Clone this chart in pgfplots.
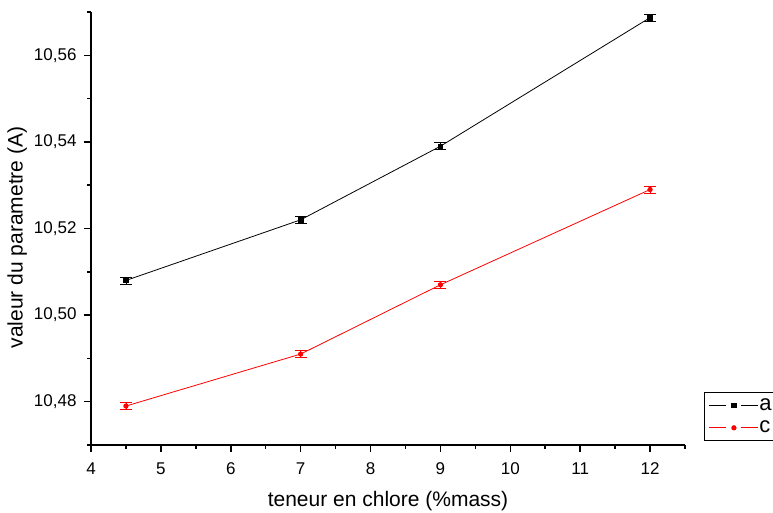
\documentclass[border=0pt]{standalone}
\usepackage{fontspec}
\setmainfont{Liberation Sans}
\usepackage{pgfplots}
\pgfplotsset{compat=1.18}
\pgfplotsset{
  gaplegend/.style={legend image code/.code={
    \draw[##1, mark=none] (0pt,0pt) -- (17pt,0pt) (32pt,0pt) -- (49pt,0pt);
    \draw[##1, only marks] plot coordinates {(25pt,0pt)};
  }},
}
\begin{document}
\begin{tikzpicture}
\begin{axis}[
  name=ax,
  scale only axis,
  width=594pt, height=433pt,
  xmin=4, xmax=12.5,
  ymin=10.47, ymax=10.57,
  axis x line*=bottom, axis y line*=left,
  axis line style={line width=1.5pt},
  xtick={4,5,6,7,8,9,10,11,12},
  ytick={10.48,10.50,10.52,10.54,10.56},
  minor xtick={4.5,5.5,6.5,7.5,8.5,9.5,10.5,11.5,12.5},
  minor ytick={10.47,10.49,10.51,10.53,10.55,10.57},
  tick align=outside,
  major tick length=7pt, minor tick length=4pt,
  every tick/.style={line width=1.5pt, black},
  /pgf/number format/assume math mode=true,
  yticklabel style={xshift=-4pt, /pgf/number format/.cd, use comma, fixed, fixed zerofill, precision=2},
  xticklabel style={yshift=-7pt},
  ticklabel style={font=\fontsize{17}{20}\selectfont},
  xlabel={teneur en chlore (\%mass)},
  ylabel={valeur du parametre (A)},
  xlabel style={yshift=-10pt},
  ylabel style={xshift=-9pt},
  label style={font=\fontsize{21}{25}\selectfont},
  legend style={at={(1,0)}, anchor=south west, xshift=19pt, yshift=4pt,
    draw=black, line width=1pt,
    nodes={font=\fontsize{22}{24}\selectfont, inner sep=1pt},
    cells={anchor=west}, row sep=7pt, inner ysep=5pt, inner xsep=4pt},
]
\addplot[black, line width=0.8pt, mark=square*, mark size=2.3pt, gaplegend,
  error bars/.cd, y dir=both, y explicit,
  error bar style={line width=0.8pt},
  error mark options={rotate=90, mark size=6pt, line width=0.8pt}]
  coordinates {
  (4.5, 10.508) +- (0, 0.0008)
  (7, 10.522) +- (0, 0.0008)
  (9, 10.539) +- (0, 0.0008)
  (12, 10.5687) +- (0, 0.0008)
};
\addlegendentry{a}
\addplot[red, line width=0.8pt, mark=*, mark size=2.2pt, gaplegend,
  error bars/.cd, y dir=both, y explicit,
  error bar style={line width=0.8pt},
  error mark options={rotate=90, mark size=6pt, line width=0.8pt}]
  coordinates {
  (4.5, 10.479) +- (0, 0.0008)
  (7, 10.491) +- (0, 0.0008)
  (9, 10.507) +- (0, 0.0008)
  (12, 10.529) +- (0, 0.0008)
};
\addlegendentry{c}
\end{axis}
\pgfresetboundingbox
\path[use as bounding box] ([xshift=-91pt,yshift=-68pt]ax.south west) rectangle ([xshift=88pt,yshift=12pt]ax.north east);
\end{tikzpicture}
\end{document}
